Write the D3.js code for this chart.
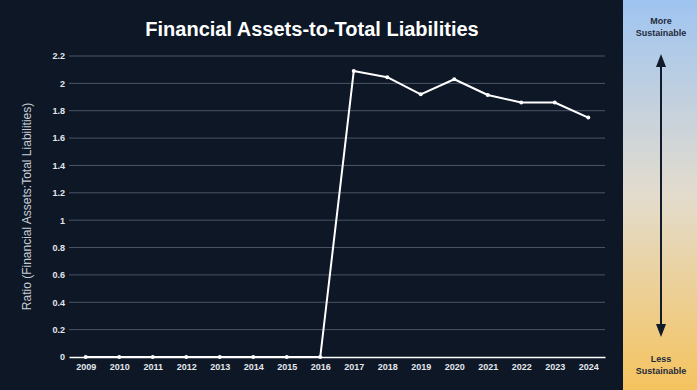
<!DOCTYPE html>
<html><head><meta charset="utf-8">
<script src="https://cdn.jsdelivr.net/npm/d3@7"></script>
<style>
html,body{margin:0;padding:0;background:#0d1726;}
svg{display:block;}
</style></head>
<body>
<script>
const years = ["2009","2010","2011","2012","2013","2014","2015","2016","2017","2018","2019","2020","2021","2022","2023","2024"];
const ratios = [0,0,0,0,0,0,0,0,2.09,2.045,1.92,2.03,1.915,1.86,1.86,1.75];
const yTicks = [0,0.2,0.4,0.6,0.8,1,1.2,1.4,1.6,1.8,2,2.2];

const W=697,H=390;
const svg=d3.select("body").append("svg").attr("width",W).attr("height",H);
svg.append("rect").attr("width",W).attr("height",H).attr("fill","#0d1726");

const m={l:69,r:605,t:56,b:357};
const x=d3.scalePoint().domain(years).range([m.l,m.r]).padding(0.5);
const y=d3.scaleLinear().domain([0,2.2]).range([m.b,m.t]);

// gridlines
svg.append("g").selectAll("line").data(yTicks.filter(d=>d>0)).join("line")
 .attr("x1",m.l).attr("x2",m.r).attr("y1",d=>y(d)).attr("y2",d=>y(d))
 .attr("stroke","#4b5566").attr("stroke-width",1);

// y axis
const ya=svg.append("g").attr("transform",`translate(${m.l},0)`)
 .call(d3.axisLeft(y).tickValues(yTicks).tickSize(0).tickPadding(4).tickFormat(d=>d3.format("~g")(d)));
ya.select(".domain").remove();
ya.selectAll("text").attr("fill","#e4e7ec").attr("font-family","Liberation Sans, Arial, sans-serif").attr("font-size",9).attr("font-weight","bold");

// x axis
const xa=svg.append("g").attr("transform",`translate(0,${m.b})`)
 .call(d3.axisBottom(x).tickSize(0).tickPadding(7));
xa.select(".domain").attr("stroke","#ffffff").attr("stroke-width",1.5);
xa.selectAll("text").attr("fill","#e4e7ec").attr("font-family","Liberation Sans, Arial, sans-serif").attr("font-size",9).attr("font-weight","bold");

// line
const line=d3.line().x((d,i)=>x(years[i])).y(d=>y(d));
svg.append("path").datum(ratios).attr("d",line).attr("fill","none").attr("stroke","#ffffff").attr("stroke-width",2).attr("stroke-linejoin","round");
svg.append("g").selectAll("circle").data(ratios).join("circle")
 .attr("cx",(d,i)=>x(years[i])).attr("cy",d=>y(d)).attr("r",2).attr("fill","#ffffff");

// title
svg.append("text").attr("x",312).attr("y",36).attr("text-anchor","middle")
 .attr("fill","#ffffff").attr("font-family","Liberation Sans, Arial, sans-serif").attr("font-size",20).attr("font-weight","bold")
 .text("Financial Assets-to-Total Liabilities");

// y label
svg.append("text").attr("transform",`translate(31,${(m.t+m.b)/2}) rotate(-90)`).attr("text-anchor","middle")
 .attr("fill","#c9ced6").attr("font-family","Liberation Sans, Arial, sans-serif").attr("font-size",12)
 .text("Ratio (Financial Assets:Total Liabilities)");

// side panel
const defs=svg.append("defs");
const g=defs.append("linearGradient").attr("id","side").attr("x1",0).attr("y1",0).attr("x2",0).attr("y2",1);
g.append("stop").attr("offset","0%").attr("stop-color","#9fc4f1");
g.append("stop").attr("offset","50%").attr("stop-color","#e3dccd");
g.append("stop").attr("offset","100%").attr("stop-color","#f5c35e");
svg.append("rect").attr("x",623).attr("y",0).attr("width",W-623).attr("height",H).attr("fill","url(#side)");

const cx=661;
const mk=defs.append("marker").attr("id","ah").attr("viewBox","0 0 13 10").attr("refX",6).attr("refY",5)
 .attr("markerWidth",6.5).attr("markerHeight",5).attr("orient","auto-start-reverse").attr("markerUnits","strokeWidth");
mk.append("path").attr("d","M0,0 L13,5 L0,10 Z").attr("fill","#111b2b");
svg.append("line").attr("x1",cx).attr("x2",cx).attr("y1",61).attr("y2",330)
 .attr("stroke","#111b2b").attr("stroke-width",2).attr("marker-start","url(#ah)").attr("marker-end","url(#ah)");

const lab=(t,yy)=>svg.append("text").attr("x",cx).attr("y",yy).attr("text-anchor","middle")
 .attr("fill","#1f2b3d").attr("font-family","Liberation Sans, Arial, sans-serif").attr("font-size",9).attr("font-weight","bold").text(t);
lab("More",24);lab("Sustainable",36);lab("Less",362);lab("Sustainable",374);
</script>
</body></html>
